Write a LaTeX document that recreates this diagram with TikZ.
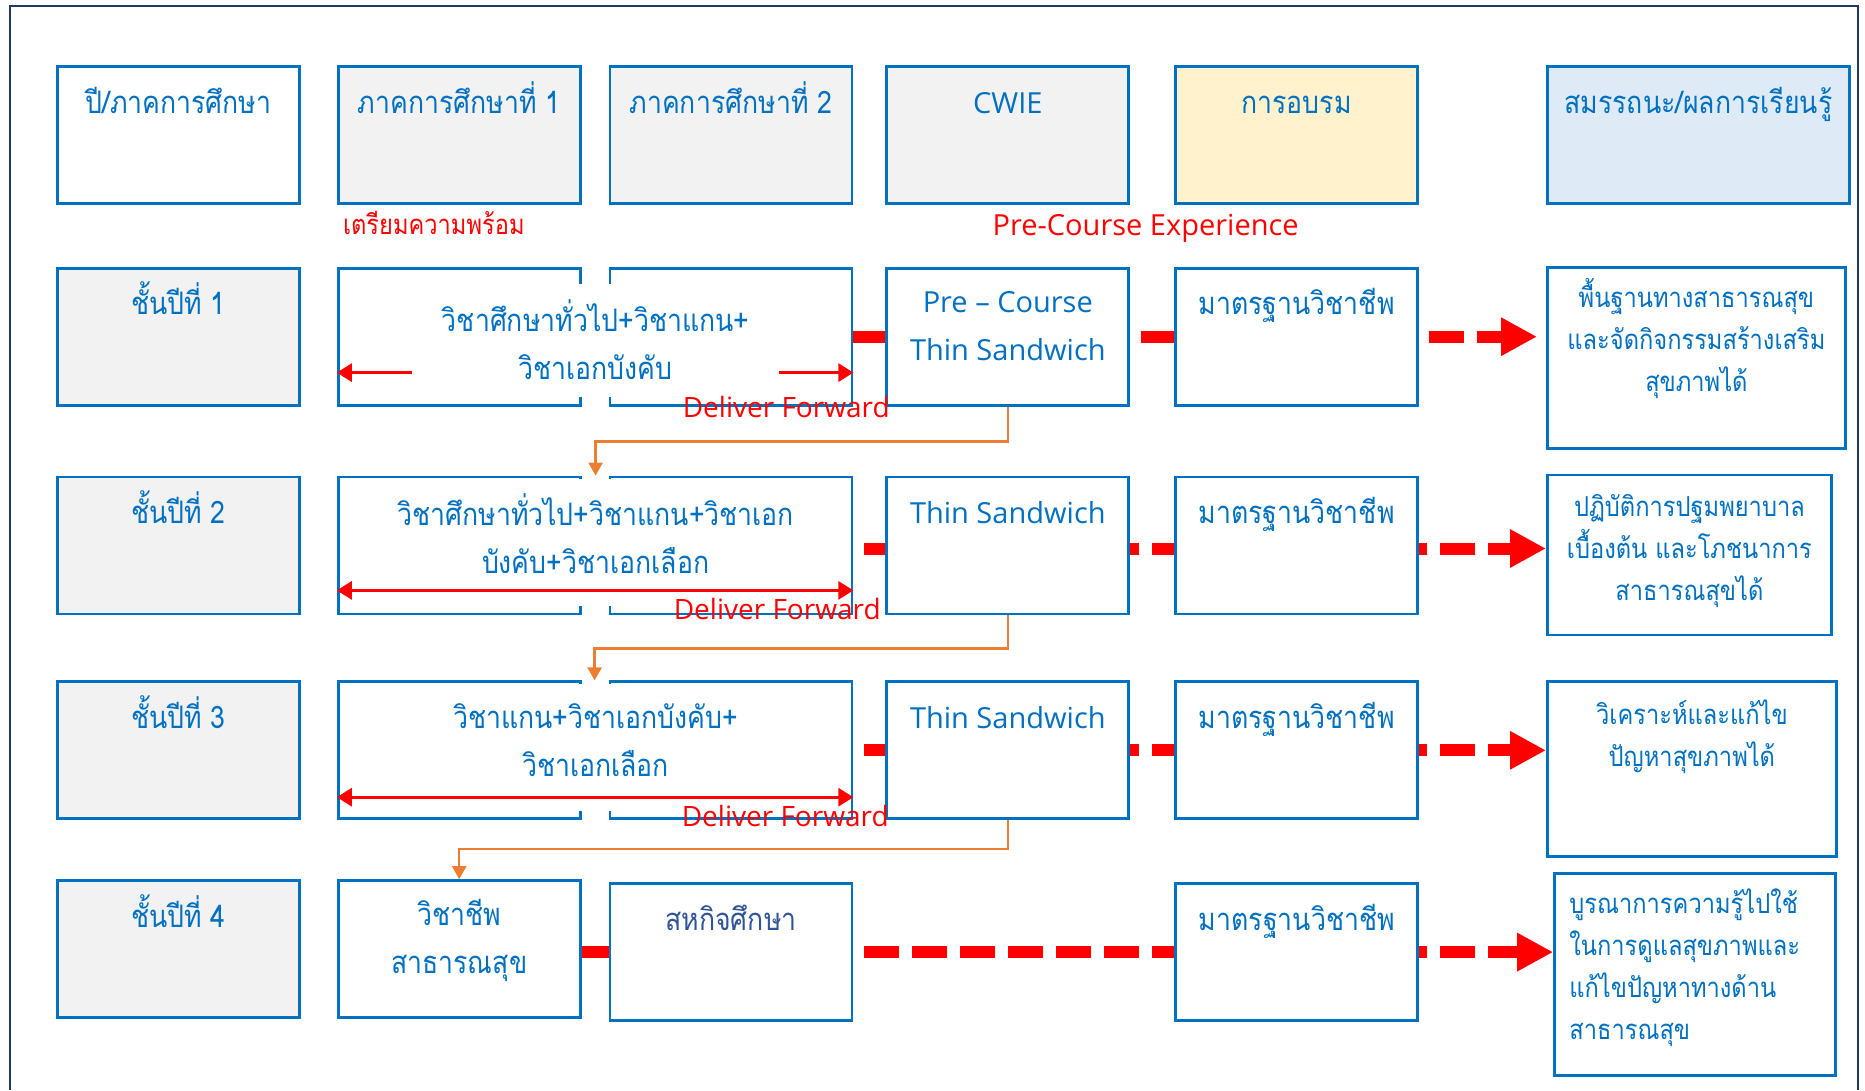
\documentclass[tikz,border=0pt]{standalone}
\usepackage{fontspec}
\setmainfont{Open Sans}
\newfontfamily\thaifont[Script=Thai,FakeStretch=0.86]{Loma}
\newcommand{\thaitxt}[1]{{\thaifont #1}}
\usepackage{xcolor}
\usetikzlibrary{arrows.meta,backgrounds}
\definecolor{cblue}{RGB}{0,112,192}
\definecolor{cnavy}{RGB}{47,85,151}
\definecolor{cframe}{RGB}{31,56,100}
\definecolor{cgray}{RGB}{242,242,242}
\definecolor{cyellow}{RGB}{255,242,204}
\definecolor{clblue}{RGB}{222,235,247}
\definecolor{corange}{RGB}{237,125,49}
\definecolor{cred}{RGB}{255,0,0}

\begin{document}
\begin{tikzpicture}[x=1pt,y=1pt,
    cell/.style={draw=cblue,line width=2.8pt,fill=white,minimum width=242pt,minimum height=137pt,inner sep=0pt,anchor=north west},
    gcell/.style={cell,fill=cgray},
    txt/.style={anchor=base,text=cblue,align=center,inner sep=0pt,font=\thaifont\fontsize{31}{48}\selectfont},
    lat/.style={txt,font=\fontsize{29}{48}\selectfont},
    outtxt/.style={txt,font=\thaifont\fontsize{27.5}{42}\selectfont},
    redtxt/.style={anchor=base west,text=cred,inner sep=0pt,font=\fontsize{28}{34}\selectfont},
    cover/.style={fill=white,minimum width=80pt,inner sep=0pt,anchor=north},
    redarr/.style={cred,line width=2.7pt,-{Triangle[length=15pt,width=18pt]}},
    dblarr/.style={redarr,{Triangle[length=15pt,width=18pt]}-{Triangle[length=15pt,width=18pt]}},
    fwdarr/.style={corange,line width=2.5pt,-{Triangle[length=13pt,width=14pt]}},
    bigarr/.style={cred,line width=12pt,dash pattern=on 35pt off 13pt,-{Triangle[length=36pt,width=36pt]}}]
    \useasboundingbox (0,0) rectangle (1865,-1090);
    \draw[cframe,line width=2.5pt] (10,-1090) -- (10,-6) -- (1858,-6) -- (1858,-1090);

    % header row
    \node(h1)[cell] at (56,-65) {};
    \node(h2)[gcell] at ([xshift=36]h1.north east) {};
    \node(h3)[gcell] at ([xshift=27]h2.north east) {};
    \node(h4)[gcell] at ([xshift=32]h3.north east) {};
    \node(h5)[cell,fill=cyellow] at ([xshift=44]h4.north east) {};
    \node(h6)[cell,fill=clblue,minimum width=302pt] at ([xshift=127]h5.north east) {};

    % year boxes
    \node(a1)[gcell] at ([yshift=-62]h1.south west) {};
    \node(a2)[gcell] at ([yshift=-69]a1.south west) {};
    \node(a3)[gcell] at ([yshift=-65]a2.south west) {};
    \node(a4)[gcell] at ([yshift=-59]a3.south west) {};

    \node(b12)[cell] at ([xshift=36]a1.north east) {};
    \node(b13)[cell] at ([xshift=27]b12.north east) {};
    \node(b14)[cell] at ([xshift=32]b13.north east) {};
    \node(b15)[cell] at ([xshift=44]b14.north east) {};
    \node(o1)[cell,minimum width=298pt,minimum height=181pt] at ([xshift=127,yshift=1]b15.north east) {};

    \node(b22)[cell] at ([xshift=36]a2.north east) {};
    \node(b23)[cell] at ([xshift=27]b22.north east) {};
    \node(b24)[cell] at ([xshift=32]b23.north east) {};
    \node(b25)[cell] at ([xshift=44]b24.north east) {};
    \node(o2)[cell,minimum width=284pt,minimum height=160pt] at ([xshift=127,yshift=2]b25.north east) {};

    \node(b32)[cell] at ([xshift=36]a3.north east) {};
    \node(b33)[cell] at ([xshift=27]b32.north east) {};
    \node(b34)[cell] at ([xshift=32]b33.north east) {};
    \node(b35)[cell] at ([xshift=44]b34.north east) {};
    \node(o3)[cell,minimum width=289pt,minimum height=175pt] at ([xshift=127]b35.north east) {};

    \node(b42)[cell] at ([xshift=36]a4.north east) {};
    \node(b43)[cell] at ([xshift=27,yshift=-3]b42.north east) {};
    \node(b45)[cell] at ([xshift=321]b43.north east) {};
    \node(o4)[cell,minimum width=281pt,minimum height=202pt] at ([xshift=134,yshift=10]b45.north east) {};

    % white covers over the joined boxes
    \node(w1)[cover,minimum height=113pt] at ([xshift=14,yshift=-17]b12.north east) {};
    \node(w2)[cover,minimum height=127pt] at ([xshift=14,yshift=-3]b22.north east) {};
    \node(w3)[cover,minimum height=127pt] at ([xshift=14,yshift=-3]b32.north east) {};

    % texts (base = last line)
    \node(t11)[txt] at ([yshift=-48]h1.north) {ปี/ภาคการศึกษา};
    \node(t12)[txt] at ([yshift=-48]h2.north) {ภาคการศึกษาที่ 1};
    \node(t13)[txt] at ([yshift=-48]h3.north) {ภาคการศึกษาที่ 2};
    \node(t14)[lat] at ([yshift=-48]h4.north) {CWIE};
    \node(t15)[txt] at ([yshift=-48]h5.north) {การอบรม};
    \node(t16)[txt] at ([yshift=-48]h6.north) {สมรรถนะ/ผลการเรียนรู้};

    \node(y1)[txt] at ([yshift=-48]a1.north) {ชั้นปีที่ 1};
    \node(y2)[txt] at ([yshift=-48]a2.north) {ชั้นปีที่ 2};
    \node(y3)[txt] at ([yshift=-48]a3.north) {ชั้นปีที่ 3};
    \node(y4)[txt] at ([yshift=-48]a4.north) {ชั้นปีที่ 4};

    \node(m1)[txt] at ([xshift=14,yshift=-113]b12.north east) {วิชาศึกษาทั่วไป+วิชาแกน+\\วิชาเอกบังคับ};
    \node(m2)[txt] at ([xshift=14,yshift=-98]b22.north east) {วิชาศึกษาทั่วไป+วิชาแกน+วิชาเอก\\บังคับ+วิชาเอกเลือก};
    \node(m3)[txt] at ([xshift=14,yshift=-96]b32.north east) {วิชาแกน+วิชาเอกบังคับ+\\วิชาเอกเลือก};
    \node(m4)[txt] at ([yshift=-94]b42.north) {วิชาชีพ\\สาธารณสุข};
    \node(m5)[txt,text=cnavy] at ([yshift=-48]b43.north) {สหกิจศึกษา};

    \node(c1)[lat] at ([yshift=-94]b14.north) {Pre – Course\\Thin Sandwich};
    \node(c2)[lat] at ([yshift=-48]b24.north) {Thin Sandwich};
    \node(c3)[lat] at ([yshift=-48]b34.north) {Thin Sandwich};

    \node(s1)[txt] at ([yshift=-48]b15.north) {มาตรฐานวิชาชีพ};
    \node(s2)[txt] at ([yshift=-48]b25.north) {มาตรฐานวิชาชีพ};
    \node(s3)[txt] at ([yshift=-48]b35.north) {มาตรฐานวิชาชีพ};
    \node(s4)[txt] at ([yshift=-48]b45.north) {มาตรฐานวิชาชีพ};

    \node(p1)[outtxt] at ([yshift=-126]o1.north) {พื้นฐานทางสาธารณสุข\\และจัดกิจกรรมสร้างเสริม\\สุขภาพได้};
    \node(p2)[outtxt] at ([yshift=-127]o2.north) {ปฏิบัติการปฐมพยาบาล\\เบื้องต้น และโภชนาการ\\สาธารณสุขได้};
    \node(p3)[outtxt] at ([yshift=-86]o3.north) {วิเคราะห์และแก้ไข\\ปัญหาสุขภาพได้};
    \node(p4)[outtxt,anchor=base west,align=left] at ([xshift=16,yshift=-167]o4.north west) {บูรณาการความรู้ไปใช้\\ในการดูแลสุขภาพและ\\แก้ไขปัญหาทางด้าน\\สาธารณสุข};

    \node(n1)[redtxt,font=\thaifont\fontsize{27.5}{30}\selectfont] at ([xshift=6,yshift=-30]h2.south west) {เตรียมความพร้อม};
    \node(n2)[redtxt,font=\fontsize{29}{34}\selectfont] at ([xshift=107,yshift=-31]h4.south west) {Pre-Course Experience};
    \node(d1)[redtxt] at ([xshift=74,yshift=-11]b13.south west) {Deliver Forward};
    \node(d2)[redtxt] at ([xshift=65,yshift=-4]b23.south west) {Deliver Forward};
    \node(d3)[redtxt] at ([xshift=73,yshift=-6]b33.south west) {Deliver Forward};

    % arrows
    \coordinate(l1) at ([xshift=75,yshift=34]b12.south west);
    \coordinate(r1) at ([xshift=-74,yshift=34]b13.south east);
    \draw[redarr] (l1) -- (l1 -| b12.west);
    \draw[redarr] (r1) -- (r1 -| b13.east);
    \draw[dblarr] ([yshift=25]b22.south west) -- ([yshift=25]b23.south east);
    \draw[dblarr] ([yshift=23]b32.south west) -- ([yshift=23]b33.south east);

    \coordinate(g2) at ([xshift=14]b22.north east);
    \coordinate(g3) at ([xshift=13]b32.north east);
    \draw[fwdarr] (b14.south) -- ++(0,-35) -| (g2);
    \draw[fwdarr] (b24.south) -- ++(0,-33) -| (g3);
    \draw[fwdarr] (b34.south) -- ++(0,-29) -| (b42.north);

    \begin{scope}[on background layer]
    \draw[bigarr,shorten >=9pt] (b13.east) -- (b13.east -| o1.west);
    \draw[bigarr,dash phase=37pt] ([yshift=-3]b23.east) -- ([yshift=-3]b23.east -| o2.west);
    \draw[bigarr,dash phase=37pt] (b33.east) -- (b33.east -| o3.west);
    \draw[bigarr,dash phase=6pt] ([yshift=-3]b42.east) -- ([yshift=-3]b42.east -| o4.west);
    \end{scope}
\end{tikzpicture}
\end{document}
